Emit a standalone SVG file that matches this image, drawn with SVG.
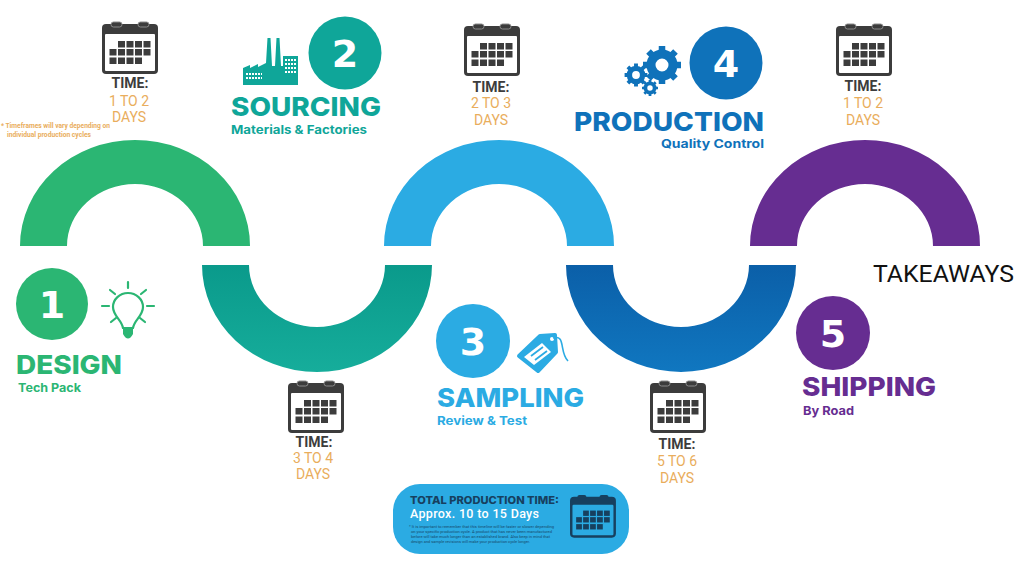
<svg xmlns="http://www.w3.org/2000/svg" width="1024" height="561" viewBox="0 0 1024 561">
<style>
text{font-family:"Roboto","Liberation Sans",sans-serif}
.time{font-size:14px;font-weight:700;fill:#3c3c3c;text-anchor:middle}
.days{font-size:14px;font-weight:400;fill:#e9ad5c;text-anchor:middle}
.num{font-family:"DejaVu Sans",sans-serif;font-size:38px;font-weight:700;fill:#fff;text-anchor:middle}
.head{font-family:"Inter","Liberation Sans",sans-serif;font-size:26px;font-weight:800}
.sub{font-family:"Inter","Liberation Sans",sans-serif;font-size:12px;font-weight:700}
.fine{font-size:4px;fill:#17496b}
</style>
<defs>
<g id="grid">
<rect x="16" y="19" width="7" height="6.5"/><rect x="24.500" y="19" width="7" height="6.500"/><rect x="33" y="19" width="7" height="6.500"/><rect x="41.500" y="19" width="7" height="6.500"/>
<rect x="7.500" y="27" width="7" height="6.500"/><rect x="16" y="27" width="7" height="6.500"/><rect x="24.500" y="27" width="7" height="6.500"/><rect x="33" y="27" width="7" height="6.500"/><rect x="41.500" y="27" width="7" height="6.500"/>
<rect x="7.500" y="35.500" width="7" height="6.500"/><rect x="16" y="35.500" width="7" height="6.500"/><rect x="24.500" y="35.500" width="7" height="6.500"/><rect x="33" y="35.500" width="7" height="6.500"/>
</g>
<g id="cal">
<rect x="0" y="2" width="56" height="50" rx="4" fill="#3c3c3c"/>
<rect x="3" y="12" width="50" height="37" rx="1" fill="#fff"/>
<rect x="9" y="0" width="11" height="5" rx="2.500" fill="#3c3c3c" stroke="#8a8a8a" stroke-width="1"/>
<rect x="36" y="0" width="11" height="5" rx="2.500" fill="#3c3c3c" stroke="#8a8a8a" stroke-width="1"/>
<use href="#grid" fill="#3c3c3c"/>
</g>
<linearGradient id="tealg" x1="0" y1="0" x2="0" y2="1"><stop offset="0" stop-color="#0a9a8b"/><stop offset="1" stop-color="#16ad9b"/></linearGradient>
<linearGradient id="blueg" x1="0" y1="0" x2="0" y2="1"><stop offset="0" stop-color="#0b5fa8"/><stop offset="1" stop-color="#1077c0"/></linearGradient>
<g id="gear"><circle r="11" fill="none" stroke="#0f72ba" stroke-width="9"/><path stroke="#0f72ba" stroke-width="6.500" d="M0-13V-19M0 13V19M-13 0H-19M13 0H19M-9-9L-13.500-13.500M9-9L13.500-13.500M-9 9L-13.500 13.500M9 9L13.500 13.500"/></g>
</defs>

<g id="connectors">
<path d="M20 246A115 106 0 0 1 250 246H203A68 62 0 0 0 67 246Z" fill="#2bb673"/>
<path d="M202 265A115 107 0 0 0 432 265H385A68 62 0 0 1 249 265Z" fill="url(#tealg)"/>
<path d="M384 246A115 106 0 0 1 614 246H567A68 62 0 0 0 431 246Z" fill="#2babe3"/>
<path d="M566 265A115 107 0 0 0 796 265H749A68 62 0 0 1 613 265Z" fill="url(#blueg)"/>
<path d="M750 246A115 106 0 0 1 980 246H933A68 62 0 0 0 797 246Z" fill="#662d91"/>
</g>

<g id="note"><text x="1" y="128" font-size="6.500" font-weight="700" fill="#e9ad5c" textLength="109" lengthAdjust="spacingAndGlyphs">* Timeframes will vary depending on</text><text x="7" y="137" font-size="6.500" font-weight="700" fill="#e9ad5c" textLength="84" lengthAdjust="spacingAndGlyphs">individual production cycles</text></g>

<g id="time1"><use href="#cal" x="102" y="22"/><text class="time" x="130" y="88">TIME:</text><text class="days" x="129" y="106">1 TO 2</text><text class="days" x="129" y="122">DAYS</text></g>
<g id="time2"><use href="#cal" x="288" y="381"/><text class="time" x="314" y="447">TIME:</text><text class="days" x="313" y="463">3 TO 4</text><text class="days" x="313" y="479">DAYS</text></g>
<g id="time3"><use href="#cal" x="464" y="24"/><text class="time" x="491" y="92">TIME:</text><text class="days" x="491" y="108">2 TO 3</text><text class="days" x="491" y="125">DAYS</text></g>
<g id="time4"><use href="#cal" x="650" y="381"/><text class="time" x="677" y="449">TIME:</text><text class="days" x="677" y="466">5 TO 6</text><text class="days" x="677" y="483">DAYS</text></g>
<g id="time5"><use href="#cal" x="836" y="24"/><text class="time" x="863" y="91">TIME:</text><text class="days" x="863" y="108">1 TO 2</text><text class="days" x="863" y="125">DAYS</text></g>

<g id="step1">
<circle cx="52" cy="304" r="36" fill="#2bb673"/><text class="num" x="52" y="318">1</text>
<g fill="none" stroke="#2bb673" stroke-width="2.200" stroke-linecap="round">
<path d="M123 328C122 320 113 316 113 307A15 14 0 1 1 143 307C143 316 134 320 133 328"/>
<path d="M128 282V288M110 290L115 294M146 290L141 294M102 306H109M147 306H154M111 322L116 318M145 322L140 318"/>
</g>
<path d="M123 327H133V334Q128 343 123 334Z" fill="#2bb673"/>
<text class="head" x="16" y="374" fill="#2bb673" textLength="106" lengthAdjust="spacingAndGlyphs">DESIGN</text>
<text class="sub" x="18" y="392" fill="#2bb673" textLength="63" lengthAdjust="spacingAndGlyphs">Tech Pack</text>
</g>

<g id="step2">
<circle cx="345" cy="53" r="36.500" fill="#0fa699"/><text class="num" x="345" y="67">2</text>
<path d="M243 85V68L250 65V68L258 64V67L266 63L267.500 38H270.500L272 66H275L276.500 38H279.500L281 66H283V56H298V85Z" fill="#0fa699"/>
<g stroke="#fff" stroke-width="2" stroke-dasharray="2 1" fill="none"><path d="M246 74H262M246 78H262M285 60H296M285 64H296M285 68H296M285 72H296"/></g>
<text class="head" x="231" y="116" fill="#0fa699" textLength="150" lengthAdjust="spacingAndGlyphs">SOURCING</text>
<text class="sub" x="231" y="134" fill="#0fa699" textLength="136" lengthAdjust="spacingAndGlyphs">Materials &amp; Factories</text>
</g>

<g id="step3">
<circle cx="473" cy="341" r="37" fill="#2babe3"/><text class="num" x="473" y="355">3</text>
<path d="M519 356L540 336L555 335L556 352L538 371Z" fill="#2babe3" stroke="#2babe3" stroke-width="4" stroke-linejoin="round"/>
<path d="M524 357L542 343L551 352L534 365Z" fill="#fff"/>
<path d="M531 356L543 347M535 360L547 351" stroke="#2babe3" stroke-width="1.800"/>
<circle cx="552" cy="339" r="2" fill="#fff"/>
<path d="M553 338C566 334 559 352 568 361" fill="none" stroke="#2babe3" stroke-width="1.600"/>
<text class="head" x="437" y="407" fill="#2babe3" textLength="147" lengthAdjust="spacingAndGlyphs">SAMPLING</text>
<text class="sub" x="437" y="425" fill="#2babe3" textLength="90" lengthAdjust="spacingAndGlyphs">Review &amp; Test</text>
</g>

<g id="step4">
<circle cx="726" cy="63" r="36.500" fill="#0f72ba"/><text class="num" x="726" y="77">4</text>
<use href="#gear" transform="translate(662 65)"/>
<use href="#gear" transform="translate(636 75) scale(.6)"/>
<use href="#gear" transform="translate(650 88) scale(.42)"/>
<text class="head" x="574" y="131" fill="#0f72ba" textLength="190" lengthAdjust="spacingAndGlyphs">PRODUCTION</text>
<text class="sub" x="661" y="148" fill="#0f72ba" textLength="103" lengthAdjust="spacingAndGlyphs">Quality Control</text>
</g>

<g id="step5">
<circle cx="833" cy="333" r="37" fill="#662d91"/><text class="num" x="833" y="347">5</text>
<text class="head" x="802" y="396" fill="#662d91" textLength="134" lengthAdjust="spacingAndGlyphs">SHIPPING</text>
<text class="sub" x="803" y="415" fill="#662d91" textLength="51" lengthAdjust="spacingAndGlyphs">By Road</text>
</g>

<g id="takeaways"><text x="873" y="282" font-size="23.500" fill="#111" textLength="141" lengthAdjust="spacingAndGlyphs">TAKEAWAYS</text></g>

<g id="total">
<rect x="393" y="484" width="236" height="70" rx="27" fill="#2babe3"/>
<text x="410" y="504" font-family="Inter" style="font-family:Inter,sans-serif" font-size="10.500" font-weight="800" fill="#17405f" textLength="149" lengthAdjust="spacingAndGlyphs">TOTAL PRODUCTION TIME:</text>
<text x="410" y="518" font-size="12.500" font-weight="500" fill="#fff" textLength="129" lengthAdjust="spacing">Approx. 10 to 15 Days</text>
<text class="fine" x="409" y="528" textLength="145" lengthAdjust="spacingAndGlyphs">* It is important to remember that this timeline will be faster or slower depending</text>
<text class="fine" x="411" y="533" textLength="141" lengthAdjust="spacingAndGlyphs">on your specific production cycle. A product that has never been manufactured</text>
<text class="fine" x="411" y="538" textLength="139" lengthAdjust="spacingAndGlyphs">before will take much longer than an established brand. Also keep in mind that</text>
<text class="fine" x="411" y="543" textLength="119" lengthAdjust="spacingAndGlyphs">design and sample revisions will make your production cycle longer.</text>
<g transform="translate(570 495) scale(.82)"><rect x="0" y="2" width="56" height="50" rx="5" fill="#17405f"/><rect x="3" y="12" width="50" height="37" rx="1.500" fill="#2babe3"/><rect x="9" y="0" width="11" height="5" rx="2.500" fill="#17405f"/><rect x="36" y="0" width="11" height="5" rx="2.500" fill="#17405f"/><use href="#grid" fill="#17405f"/></g>
</g>
</svg>
